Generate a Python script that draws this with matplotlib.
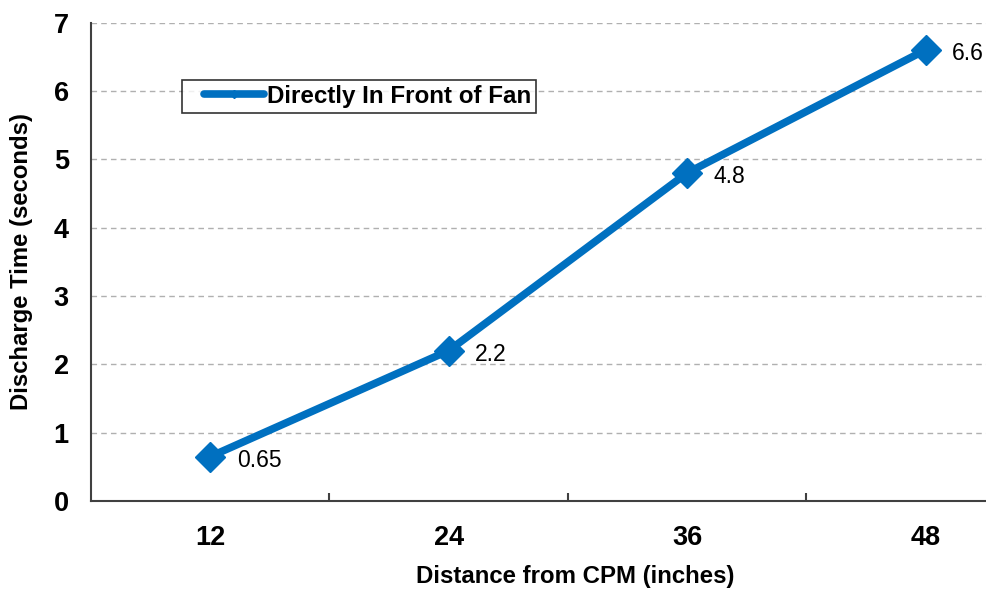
import matplotlib
matplotlib.use("Agg")
import matplotlib.pyplot as plt
from matplotlib.ticker import FixedLocator
from matplotlib.lines import Line2D
from matplotlib.legend_handler import HandlerLine2D

categories = ["12", "24", "36", "48"]
values = [0.65, 2.2, 4.8, 6.6]
value_labels = ["0.65", "2.2", "4.8", "6.6"]
series_name = "Directly In Front of Fan"
yticks = [0, 1, 2, 3, 4, 5, 6, 7]

plt.rcParams['font.family'] = ['Liberation Sans', 'DejaVu Sans']

fig = plt.figure(figsize=(9.87, 5.93), dpi=100)
# axes extends beyond right edge (cropped like reference)
ax = fig.add_axes([91/987, 92/593, 954/987, 478.5/593])

color = "#0070C0"
x = list(range(1, len(categories) + 1))
ax.plot(x, values, color=color, lw=5.5, marker="D", ms=15, mec=color, mfc=color,
        solid_joinstyle="round", solid_capstyle="round", label=series_name, zorder=3)

for xi, v, lab in zip(x, values, value_labels):
    ax.annotate(lab, (xi, v), xytext=(19, -2.5), textcoords="offset points",
                ha="left", va="center", fontsize=16.5,
                color="black", zorder=4)

ax.set_xlim(0.5, len(categories) + 0.5)
ax.set_ylim(0, 7)
ax.set_xticks(x)
ax.set_xticklabels(categories, fontsize=19.5, fontweight="bold")
ax.xaxis.set_minor_locator(FixedLocator([i + 0.5 for i in x[:-1]]))
ax.tick_params(axis="x", which="major", length=0, pad=17)
ax.tick_params(axis="x", which="minor", length=6, direction="in", width=1.5, color="#404040")
ax.set_yticks(yticks)
ax.set_yticklabels([str(t) for t in yticks], fontsize=19.5, fontweight="bold")
ax.tick_params(axis="y", length=0, pad=16)

for yt in yticks[1:]:
    ax.axhline(yt, color="#b0b0b0", lw=1, ls=(0, (4, 3)), zorder=1)

for s in ["top", "right"]:
    ax.spines[s].set_visible(False)
for s in ["left", "bottom"]:
    ax.spines[s].set_color("#404040")
    ax.spines[s].set_linewidth(1.5)

fig.text(575/987, 1 - 577/593, "Distance from CPM (inches)", ha="center", va="center",
         fontsize=17.3, fontweight="bold")
fig.text(22/987, 1 - 262/593, "Discharge Time (seconds)", ha="center", va="center",
         rotation=90, fontsize=17.2, fontweight="bold")

h = Line2D([], [], color=color, lw=5.5, marker="D", ms=4, solid_capstyle="round")
leg = ax.legend([h], [series_name], loc="upper left",
                bbox_to_anchor=(182/987, 1 - 80/593), bbox_transform=fig.transFigure,
                prop={"weight": "bold", "size": 17.4}, frameon=True, fancybox=False,
                edgecolor="black", handlelength=3.2, handletextpad=0.1,
                borderpad=0.2, borderaxespad=0,
                handler_map={Line2D: HandlerLine2D(xpad=0.7)})
leg.get_frame().set_linewidth(1.2)

fig.savefig("out.png", dpi=100)
